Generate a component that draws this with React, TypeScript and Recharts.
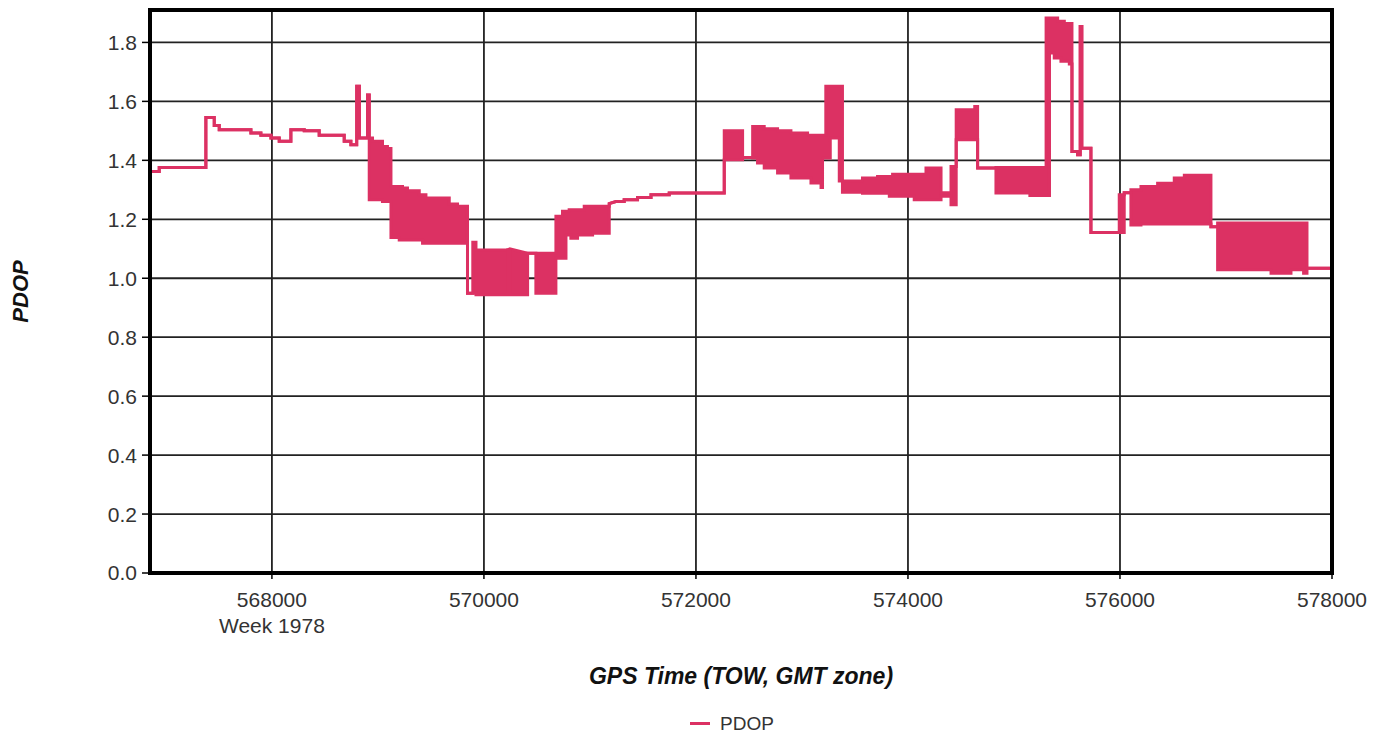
import {
  Area,
  AreaChart,
  CartesianGrid,
  Legend,
  ReferenceArea,
  XAxis,
  YAxis,
} from "recharts";

// GPS time of week (s). Repeated values mark vertical jumps of the trace.
const tow = [
  566850, 566937, 566937, 567377, 567377, 567456, 567456, 567503, 567503, 567802,
  567802, 567896, 567896, 567991, 567991, 568069, 568069, 568179, 568179, 568305,
  568305, 568446, 568446, 568682, 568682, 568745, 568745, 568800, 568800, 568825,
  568825, 568902, 568902, 568918, 568918, 568949, 568949, 569043, 569043, 569090,
  569090, 569123, 569123, 569201, 569201, 569232, 569232, 569279, 569279, 569390,
  569390, 569421, 569421, 569453, 569453, 569673, 569673, 569751, 569751, 569845,
  569845, 569895, 569895, 569925, 569925, 570223, 570223, 570245, 570245, 570412,
  570412, 570490, 570490, 570679, 570679, 570741, 570741, 570774, 570774, 570804,
  570804, 570820, 570820, 570883, 570883, 570946, 570946, 571025, 571025, 571182,
  571182, 571245, 571323, 571323, 571449, 571449, 571576, 571576, 571748, 571748,
  572267, 572267, 572440, 572440, 572535, 572535, 572581, 572581, 572644, 572644,
  572770, 572770, 572896, 572896, 573053, 573053, 573085, 573085, 573180, 573180,
  573194, 573194, 573225, 573225, 573267, 573267, 573352, 573352, 573382, 573382,
  573571, 573571, 573713, 573713, 573824, 573824, 573855, 573855, 574059, 574059,
  574170, 574170, 574312, 574312, 574406, 574406, 574455, 574455, 574630, 574630,
  574657, 574657, 574830, 574830, 575150, 575150, 575303, 575303, 575335, 575335,
  575380, 575380, 575412, 575412, 575443, 575443, 575475, 575475, 575522, 575522,
  575547, 575547, 575600, 575600, 575625, 575625, 575640, 575640, 575726, 575726,
  575993, 575993, 576040, 576040, 576103, 576103, 576198, 576198, 576355, 576355,
  576512, 576512, 576607, 576607, 576858, 576858, 576921, 576921, 577425, 577425,
  577613, 577613, 577732, 577732, 577764, 577764, 578000,
];

// lower edge of the PDOP trace (equals the upper edge where it is a single line)
const pdopLow = [
  1.362, 1.362, 1.376, 1.376, 1.545, 1.545, 1.518, 1.518, 1.504, 1.504,
  1.493, 1.493, 1.485, 1.485, 1.476, 1.476, 1.465, 1.465, 1.504, 1.504,
  1.5, 1.5, 1.485, 1.485, 1.465, 1.465, 1.453, 1.453, 1.651, 1.651,
  1.476, 1.476, 1.622, 1.622, 1.266, 1.266, 1.266, 1.266, 1.26, 1.26,
  1.26, 1.26, 1.138, 1.138, 1.13, 1.13, 1.13, 1.13, 1.13, 1.13,
  1.13, 1.13, 1.119, 1.119, 1.119, 1.119, 1.119, 1.119, 1.119, 1.119,
  0.949, 0.949, 0.949, 0.949, 0.944, 0.944, 1.096, 1.096, 0.944, 0.944,
  1.085, 1.085, 0.949, 0.949, 1.068, 1.068, 1.068, 1.068, 1.147, 1.147,
  1.147, 1.147, 1.136, 1.136, 1.147, 1.147, 1.147, 1.147, 1.153, 1.153,
  1.253, 1.26, 1.26, 1.266, 1.266, 1.274, 1.274, 1.283, 1.283, 1.289,
  1.289, 1.402, 1.402, 1.41, 1.41, 1.408, 1.408, 1.391, 1.391, 1.374,
  1.374, 1.357, 1.357, 1.34, 1.34, 1.34, 1.34, 1.323, 1.323, 1.308,
  1.308, 1.408, 1.408, 1.408, 1.408, 1.476, 1.476, 1.33, 1.33, 1.292,
  1.292, 1.288, 1.288, 1.288, 1.288, 1.278, 1.278, 1.278, 1.278, 1.266,
  1.266, 1.266, 1.266, 1.278, 1.278, 1.249, 1.249, 1.47, 1.47, 1.47,
  1.47, 1.374, 1.374, 1.289, 1.289, 1.281, 1.281, 1.281, 1.281, 1.764,
  1.764, 1.747, 1.747, 1.747, 1.747, 1.736, 1.736, 1.736, 1.736, 1.727,
  1.727, 1.43, 1.43, 1.419, 1.419, 1.854, 1.854, 1.441, 1.441, 1.155,
  1.155, 1.155, 1.155, 1.29, 1.29, 1.181, 1.181, 1.184, 1.184, 1.184,
  1.184, 1.184, 1.184, 1.184, 1.184, 1.175, 1.175, 1.029, 1.029, 1.017,
  1.017, 1.029, 1.029, 1.017, 1.017, 1.034, 1.034,
];

// upper edge of the PDOP trace
const pdopHigh = [
  1.362, 1.362, 1.376, 1.376, 1.545, 1.545, 1.518, 1.518, 1.504, 1.504,
  1.493, 1.493, 1.485, 1.485, 1.476, 1.476, 1.465, 1.465, 1.504, 1.504,
  1.5, 1.5, 1.485, 1.485, 1.465, 1.465, 1.453, 1.453, 1.651, 1.651,
  1.476, 1.476, 1.622, 1.622, 1.476, 1.476, 1.465, 1.465, 1.447, 1.447,
  1.44, 1.44, 1.311, 1.311, 1.311, 1.311, 1.306, 1.306, 1.297, 1.297,
  1.283, 1.283, 1.283, 1.283, 1.272, 1.272, 1.252, 1.252, 1.244, 1.244,
  0.949, 0.949, 1.122, 1.122, 1.096, 1.096, 1.096, 1.1, 1.1, 1.085,
  1.085, 1.085, 1.085, 1.085, 1.21, 1.21, 1.227, 1.227, 1.227, 1.227,
  1.232, 1.232, 1.232, 1.232, 1.232, 1.232, 1.244, 1.244, 1.244, 1.244,
  1.253, 1.26, 1.26, 1.266, 1.266, 1.274, 1.274, 1.283, 1.283, 1.289,
  1.289, 1.5, 1.5, 1.41, 1.41, 1.515, 1.515, 1.515, 1.515, 1.507,
  1.507, 1.5, 1.5, 1.493, 1.493, 1.485, 1.485, 1.485, 1.485, 1.485,
  1.485, 1.485, 1.485, 1.651, 1.651, 1.651, 1.651, 1.651, 1.651, 1.33,
  1.33, 1.34, 1.34, 1.345, 1.345, 1.345, 1.345, 1.353, 1.353, 1.353,
  1.353, 1.374, 1.374, 1.29, 1.29, 1.379, 1.379, 1.572, 1.572, 1.583,
  1.583, 1.374, 1.374, 1.376, 1.376, 1.376, 1.376, 1.883, 1.883, 1.883,
  1.883, 1.883, 1.883, 1.872, 1.872, 1.872, 1.872, 1.864, 1.864, 1.864,
  1.864, 1.43, 1.43, 1.419, 1.419, 1.854, 1.854, 1.441, 1.441, 1.155,
  1.155, 1.283, 1.283, 1.29, 1.29, 1.3, 1.3, 1.311, 1.311, 1.322,
  1.322, 1.34, 1.34, 1.349, 1.349, 1.175, 1.175, 1.187, 1.187, 1.187,
  1.187, 1.187, 1.187, 1.187, 1.187, 1.034, 1.034,
];

const xTicks = [568000, 570000, 572000, 574000, 576000, 578000];
const yTicks = [0, 0.2, 0.4, 0.6, 0.8, 1.0, 1.2, 1.4, 1.6, 1.8];
const xDomain = [566850, 578000];
const yDomain = [0, 1.91];
const weekLabel = "Week 1978";
const xTitle = "GPS Time (TOW, GMT zone)";
const yTitle = "PDOP";
const seriesName = "PDOP";

const COLOR = "#dc3163";
const FONT = "'Liberation Sans', Arial, sans-serif";
const TEXT = "#333";

const data = tow.map((t, i) => ({ t, pdop: [pdopLow[i], pdopHigh[i]] }));

function XTick({ x, y, payload }: any) {
  return (
    <text fill={TEXT} fontFamily={FONT} fontSize={21} textAnchor="middle" x={x} y={y}>
      <tspan dy="0.71em" x={x}>
        {payload.value}
      </tspan>
      {payload.value === xTicks[0] && (
        <tspan dy={26} x={x}>
          {weekLabel}
        </tspan>
      )}
    </text>
  );
}

function LegendContent() {
  return (
    <div style={{ height: 24, position: "relative", fontFamily: FONT }}>
      <span
        style={{
          position: "absolute",
          left: 682,
          top: 14,
          width: 20,
          height: 3,
          background: COLOR,
        }}
      />
      <span
        style={{
          position: "absolute",
          left: 712,
          top: 4,
          lineHeight: "24px",
          fontSize: 19,
          color: TEXT,
        }}
      >
        {seriesName}
      </span>
    </div>
  );
}

export default function App() {
  return (
    <AreaChart
      data={data}
      height={724}
      margin={{ top: 2, right: 47, left: 0, bottom: 0 }}
      width={1371}
    >
      <CartesianGrid stroke="#222" strokeWidth={1.8} />
      <XAxis
        allowDataOverflow
        axisLine={false}
        dataKey="t"
        domain={xDomain}
        height={135}
        interval={0}
        label={{
          value: xTitle,
          position: "insideBottom",
          offset: 24,
          fill: "#111",
          fontSize: 23,
          fontWeight: "bold",
          fontStyle: "italic",
          fontFamily: FONT,
        }}
        tick={<XTick />}
        tickLine={{ stroke: "#000", strokeWidth: 1.5 }}
        tickMargin={13}
        tickSize={6}
        ticks={xTicks}
        type="number"
      />
      <YAxis
        allowDataOverflow
        axisLine={false}
        domain={yDomain}
        interval={0}
        label={{
          value: yTitle,
          angle: -90,
          position: "insideLeft",
          offset: 12,
          fill: "#111",
          fontSize: 22,
          fontWeight: "bold",
          fontStyle: "italic",
          fontFamily: FONT,
          style: { textAnchor: "middle" },
        }}
        tick={{ fill: TEXT, fontSize: 21, fontFamily: FONT }}
        tickFormatter={(v: number) => v.toFixed(1)}
        tickLine={{ stroke: "#000", strokeWidth: 1.5 }}
        tickMargin={5}
        tickSize={8}
        ticks={yTicks}
        type="number"
        width={142}
      />
      <Area
        dataKey="pdop"
        dot={false}
        activeDot={false}
        fill={COLOR}
        fillOpacity={1}
        isAnimationActive={false}
        name={seriesName}
        stroke={COLOR}
        strokeWidth={3}
        type="linear"
      />
      <ReferenceArea
        fill="none"
        ifOverflow="visible"
        stroke="#000"
        strokeWidth={4}
        x1={xDomain[0]}
        x2={xDomain[1]}
        y1={yDomain[0]}
        y2={yDomain[1]}
      />
      <Legend content={<LegendContent />} height={24} verticalAlign="bottom" />
    </AreaChart>
  );
}
